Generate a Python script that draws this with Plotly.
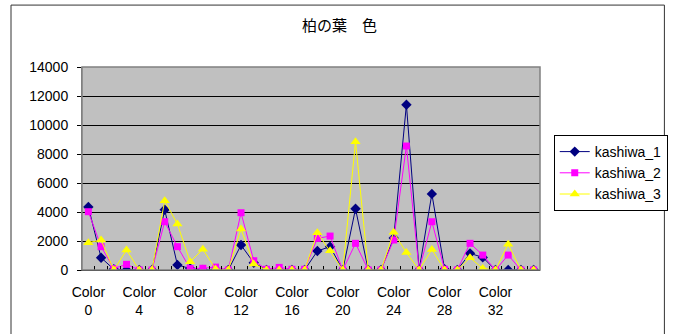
import plotly.graph_objects as go

# Category labels: Color 0 .. Color 35
categories = [f"Color {i}" for i in range(36)]

kashiwa_1 = [4350, 850, 50, 0, 0, 0, 4150, 350, 100, 0, 0, 0,
             1720, 500, 0, 0, 0, 0, 1310, 1610, 0, 4220, 0, 0,
             2200, 11400, 0, 5250, 50, 0, 1150, 870, 0, 0, 0, 0]
kashiwa_2 = [4020, 1610, 100, 390, 0, 0, 3330, 1610, 100, 120, 200, 0,
             3950, 640, 50, 180, 50, 50, 2180, 2340, 0, 1840, 0, 0,
             2070, 8550, 0, 3330, 50, 0, 1840, 1030, 0, 1030, 0, 0]
kashiwa_3 = [1880, 2070, 0, 1380, 0, 0, 4780, 3170, 570, 1430, 60, 0,
             2830, 410, 0, 0, 0, 0, 2570, 1330, 0, 8850, 0, 0,
             2600, 1200, 0, 1420, 0, 0, 850, 110, 0, 1770, 0, 0]

tick_positions = list(range(0, 36, 4))
tick_labels = [f"Color<br>{i}" for i in tick_positions]
y_ticks = list(range(0, 14001, 2000))
y_labels = [str(v) for v in y_ticks]

x = list(range(len(categories)))
x_range = [-0.5, len(categories) - 0.5]
boundaries = [i - 0.5 for i in range(len(categories) + 1)]

fig = go.Figure()
series = [
    ("kashiwa_1", kashiwa_1, "#000080", "diamond", 8),
    ("kashiwa_2", kashiwa_2, "#FF00FF", "square", 7),
    ("kashiwa_3", kashiwa_3, "#FFFF00", "triangle-up", 9),
]
for name, vals, color, sym, size in series:
    fig.add_trace(go.Scatter(
        x=x, y=vals, name=name, mode="lines+markers",
        line=dict(color=color, width=1),
        marker=dict(color=color, symbol=sym, size=size, line=dict(width=0)),
        customdata=categories,
        hovertemplate="%{customdata}: %{y}<extra>" + name + "</extra>",
    ))

# invisible carrier so the label axis is laid out
fig.add_trace(go.Scatter(x=x_range, y=[0, 0], xaxis="x2", mode="markers",
                         marker=dict(opacity=0), showlegend=False,
                         hoverinfo="skip"))

base_font = dict(family="Liberation Sans, Arial, sans-serif", size=14, color="black")

fig.update_layout(
    width=680, height=334,
    margin=dict(l=82, r=134, t=67, b=64),
    paper_bgcolor="white",
    plot_bgcolor="#C0C0C0",
    font=base_font,
    showlegend=True,
    legend=dict(
        x=1.03, y=0.665, xanchor="left", yanchor="top",
        bgcolor="white", bordercolor="black", borderwidth=1,
        font=dict(family="Liberation Sans, Arial, sans-serif", size=14),
        itemwidth=30, tracegroupgap=0,
    ),
    # category boundaries: short inside ticks, no labels
    xaxis=dict(
        range=x_range, tickmode="array",
        tickvals=boundaries, ticktext=[""] * len(boundaries),
        ticks="inside", ticklen=4, tickwidth=1, tickcolor="black",
        showgrid=False, zeroline=False,
        showline=True, linecolor="black", linewidth=1,
    ),
    # category labels every fourth colour
    xaxis2=dict(
        range=x_range, overlaying="x", side="bottom", anchor="y",
        tickmode="array", tickvals=tick_positions, ticktext=tick_labels,
        ticks="", showgrid=False, zeroline=False, showline=False,
        ticklabelstandoff=12,
    ),
    yaxis=dict(
        range=[0, 14000], tickmode="array", tickvals=y_ticks, ticktext=y_labels,
        ticks="outside", ticklen=4, tickcolor="black",
        showgrid=True, gridcolor="black", gridwidth=1,
        zeroline=False, showline=True, linecolor="#808080", linewidth=1,
        ticklabelstandoff=6,
    ),
    shapes=[
        # plot area frame
        dict(type="rect", xref="paper", yref="paper", x0=0, x1=1, y0=0, y1=1,
             line=dict(color="#808080", width=1.5), layer="above"),
        # chart area frame
        dict(type="rect", xref="paper", yref="paper",
             x0=-0.155, x1=1.2716, y0=-0.4, y1=1.305,
             line=dict(color="#333333", width=1)),
    ],
    annotations=[
        dict(text="柏の葉　色", xref="paper", yref="paper", x=0.562, y=1.207,
             showarrow=False, xanchor="center", yanchor="middle",
             font=dict(family="Noto Sans CJK JP", size=15, color="black")),
    ],
)

fig.write_html("out.html")
